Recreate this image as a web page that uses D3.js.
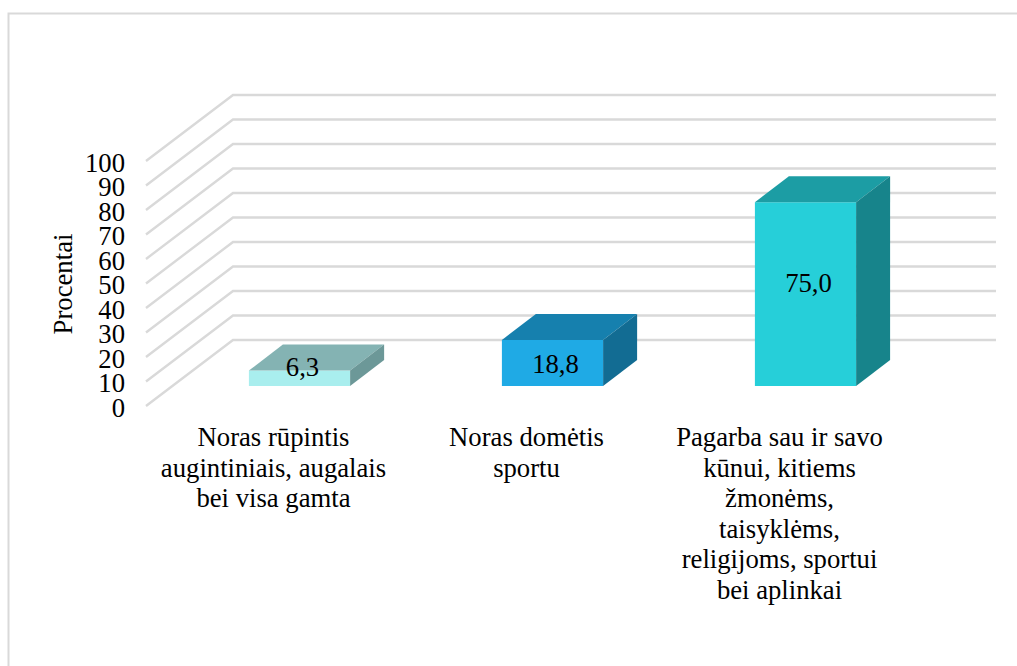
<!DOCTYPE html>
<html>
<head>
<meta charset="utf-8">
<script src="https://cdn.jsdelivr.net/npm/d3@7"></script>
<style>
	html, body {margin: 0; padding: 0; background: #fff;}
	svg {display: block;}
	text {font-family: "Liberation Serif", serif; fill: #000;}
</style>
</head>
<body>
<script>
var categories = ["a", "b", "c"];
var categoryLines = [
	["Noras rūpintis", "augintiniais, augalais", "bei visa gamta"],
	["Noras domėtis", "sportu"],
	["Pagarba sau ir savo", "kūnui, kitiems", "žmonėms,", "taisyklėms,", "religijoms, sportui", "bei aplinkai"]
];
var values = [6.3, 18.8, 75.0];
var valueLabels = ["6,3", "18,8", "75,0"];
var yTicks = [0, 10, 20, 30, 40, 50, 60, 70, 80, 90, 100];

var frontColors = ["#a9eeee", "#1faae5", "#26cfd9"];
var topColors = ["#84b3b3", "#1680ae", "#1c9da4"];
var sideColors = ["#6c9898", "#126c93", "#17848b"];

var width = 1017, height = 666;
var fontSize = 26.7;

//depth of the floor and of the bars, in pixels
var wallDx = 87, wallDy = -66;
var barOffsetDx = 26, barOffsetDy = -20;
var barDx = 34, barDy = -26;

var y = d3.scaleLinear().domain([0, 100]).range([406, 161]);
var x = d3.scaleBand().domain(categories).range([173, 932]).paddingInner(0.6).paddingOuter(0.3);

var svg = d3.select("body").append("svg").attr("width", width).attr("height", height);

//chart border, only top and left show up
svg.append("path")
	.attr("d", "M8.5," + height + "V13.5H" + width)
	.attr("fill", "none")
	.attr("stroke", "#d9d9d9")
	.attr("stroke-width", 2);

//gridlines go up the side wall and then along the back wall
svg.append("g").selectAll("path")
	.data(yTicks)
	.enter().append("path")
	.attr("d", function(d){
		return "M146," + y(d) + "L" + (146 + wallDx) + "," + (y(d) + wallDy) + "H996";
	})
	.attr("fill", "none")
	.attr("stroke", "#d9d9d9")
	.attr("stroke-width", 2.4);

var axis = d3.axisLeft(y).tickValues(yTicks).tickSize(0).tickPadding(0);
var axisG = svg.append("g")
	.attr("transform", "translate(125,1.5)")
	.call(axis);
axisG.select(".domain").remove();
axisG.selectAll("text")
	.attr("font-family", "Liberation Serif")
	.attr("font-size", fontSize)
	.attr("dy", "0.32em")
	.style("fill", "#000");

svg.append("text")
	.attr("transform", "translate(72,284) rotate(-90)")
	.attr("text-anchor", "middle")
	.attr("font-size", fontSize)
	.text("Procentai");

var bars = svg.append("g").selectAll("g")
	.data(categories)
	.enter().append("g");

function barBox(i){
	var x0 = x(categories[i]);
	var x1 = x0 + x.bandwidth();
	var y0 = y(0) + barOffsetDy;
	var y1 = y(values[i]) + barOffsetDy;
	return {x0: x0, x1: x1, y0: y0, y1: y1};
}

//front
bars.append("rect")
	.attr("x", function(d, i){return barBox(i).x0})
	.attr("y", function(d, i){return barBox(i).y1})
	.attr("width", x.bandwidth())
	.attr("height", function(d, i){return barBox(i).y0 - barBox(i).y1})
	.attr("fill", function(d, i){return frontColors[i]});

//top
bars.append("path")
	.attr("d", function(d, i){
		var b = barBox(i);
		return "M" + b.x0 + "," + b.y1 + "L" + (b.x0 + barDx) + "," + (b.y1 + barDy)
			+ "H" + (b.x1 + barDx) + "L" + b.x1 + "," + b.y1 + "Z";
	})
	.attr("fill", function(d, i){return topColors[i]});

//side
bars.append("path")
	.attr("d", function(d, i){
		var b = barBox(i);
		return "M" + b.x1 + "," + b.y1 + "L" + (b.x1 + barDx) + "," + (b.y1 + barDy)
			+ "V" + (b.y0 + barDy) + "L" + b.x1 + "," + b.y0 + "Z";
	})
	.attr("fill", function(d, i){return sideColors[i]});

//data labels sit a bit off the middle of the front face
var labelShiftY = [-11, 1, -11];
bars.append("text")
	.attr("x", function(d, i){return (barBox(i).x0 + barBox(i).x1) / 2 + 3})
	.attr("y", function(d, i){return (barBox(i).y0 + barBox(i).y1) / 2 + labelShiftY[i]})
	.attr("dy", "0.32em")
	.attr("text-anchor", "middle")
	.attr("font-size", fontSize)
	.text(function(d, i){return valueLabels[i]});

//category labels
var cat = svg.append("g").selectAll("text")
	.data(categories)
	.enter().append("text")
	.attr("text-anchor", "middle")
	.attr("font-size", fontSize)
	.attr("transform", function(d){
		return "translate(" + (x(d) + x.bandwidth() / 2 - 26) + ",446)";
	});

cat.selectAll("tspan")
	.data(function(d, i){return categoryLines[i]})
	.enter().append("tspan")
	.attr("x", 0)
	.attr("y", function(d, i){return i * 30.5})
	.text(function(d){return d});
</script>
</body>
</html>
